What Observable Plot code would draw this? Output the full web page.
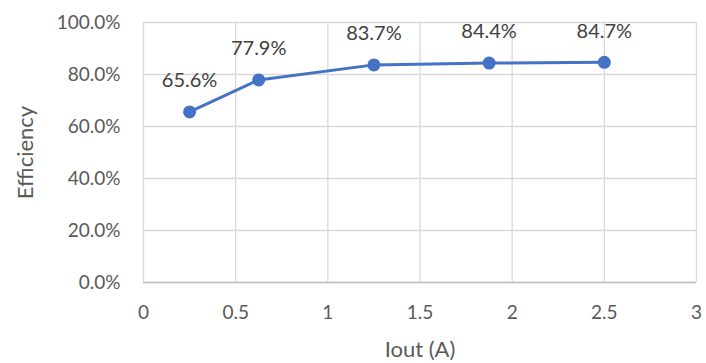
<!DOCTYPE html>
<html><head><meta charset="utf-8">
<script src="https://cdn.jsdelivr.net/npm/d3@7"></script>
<script src="https://cdn.jsdelivr.net/npm/@observablehq/plot@0.6"></script>
<style>body{margin:0;background:#fff}</style>
</head><body><div id="chart"></div>
<script>
const iout = [0.25, 0.625, 1.25, 1.875, 2.5];
const efficiency = [0.656, 0.779, 0.837, 0.844, 0.847];
const xTicks = [0, 0.5, 1, 1.5, 2, 2.5, 3];
const yTicks = [0, 0.2, 0.4, 0.6, 0.8, 1.0];

const data = iout.map((x, i) => ({x, y: efficiency[i]}));
const font = "Lato, 'Open Sans', sans-serif";

const chart = Plot.plot({
  width: 706, height: 363,
  marginLeft: 143, marginRight: 10, marginTop: 22, marginBottom: 81,
  style: {fontFamily: font, background: "#fff"},
  x: {domain: [0, 3]},
  y: {domain: [0, 1]},
  marks: [
    Plot.gridX(xTicks, {stroke: "#d9d9d9", strokeOpacity: 1, strokeWidth: 1.3}),
    Plot.gridY(yTicks, {stroke: "#d9d9d9", strokeOpacity: 1, strokeWidth: 1.3}),
    Plot.ruleY([0], {stroke: "#bfbfbf", strokeWidth: 1.3}),
    Plot.axisX(xTicks, {tickSize: 0, tickPadding: 23, fontSize: 19, fill: "#595959", label: "Iout (A)", labelAnchor: "center", labelArrow: "none", labelOffset: 74, tickFormat: d => String(d)}),
    Plot.axisY(yTicks, {tickSize: 0, tickPadding: 23, fontSize: 19, fill: "#595959", tickFormat: d3.format(".1%"), label: "Efficiency", labelAnchor: "center", labelArrow: "none", labelOffset: 126}),
    Plot.line(data, {x: "x", y: "y", stroke: "#4472c4", strokeWidth: 3}),
    Plot.dot(data, {x: "x", y: "y", r: 6.5, fill: "#4472c4", stroke: "none"}),
    Plot.text(data, {x: "x", y: "y", text: d => d3.format(".1%")(d.y), dy: -31, fontSize: 20, fill: "#404040"})
  ]
});
chart.querySelectorAll("g[aria-label='x-axis label'] text, g[aria-label='y-axis label'] text").forEach(t => { t.setAttribute("font-size", "22"); t.setAttribute("fill", "#595959"); });
document.getElementById("chart").appendChild(chart);
</script></body></html>
